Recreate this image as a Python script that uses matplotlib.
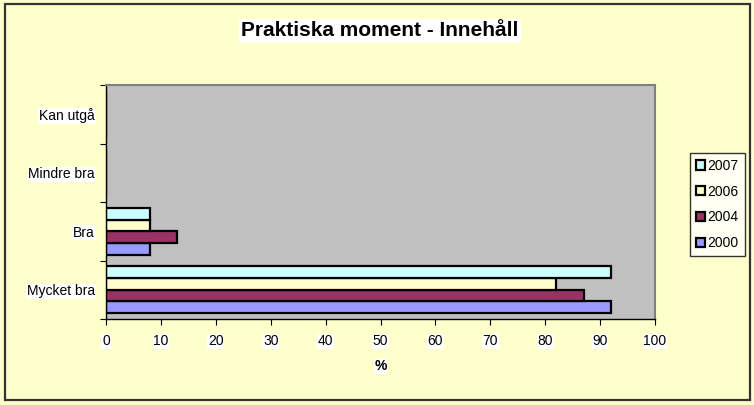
import matplotlib.pyplot as plt
import numpy as np

# data
categories = ['Mycket bra', 'Bra', 'Mindre bra', 'Kan utgå']
years = ['2000', '2004', '2006', '2007']
values_2000 = [92, 8, 0, 0]
values_2004 = [87, 13, 0, 0]
values_2006 = [82, 8, 0, 0]
values_2007 = [92, 8, 0, 0]
colors = ['#9999FF', '#993366', '#FFFFCC', '#CCFFFF']

plt.rcParams['font.family'] = ['Liberation Sans', 'DejaVu Sans']

fig = plt.figure(figsize=(7.54, 4.05), dpi=100, facecolor='#FFFFCC')
fig.patches.append(plt.Rectangle((0.0065, 0.013), 0.988, 0.976, transform=fig.transFigure,
                                 fill=False, edgecolor='#333333', linewidth=1.6))
ax = fig.add_axes([0.1406, 0.2123, 0.7281, 0.5777])
ax.set_facecolor('#C0C0C0')

series = [values_2000, values_2004, values_2006, values_2007]
y = np.arange(len(categories))
h = 0.2
for i, (vals, year, col) in enumerate(zip(series, years, colors)):
    ax.barh(y + (i - 1.5) * h, vals, height=h, color=col, edgecolor='black',
            linewidth=1.6, label=year)

ax.set_xlim(0, 100)
ax.set_ylim(-0.5, len(categories) - 0.5)
ax.set_xticks(np.arange(0, 101, 10))
ax.set_yticks(np.arange(-0.5, len(categories), 1.0))
ax.set_yticklabels([])
ax.set_yticks(y, minor=True)
ax.set_yticklabels(categories, minor=True)
ax.tick_params(axis='y', which='minor', length=0, pad=8, labelsize=10)
ax.tick_params(axis='y', which='major', length=4, direction='out')
ax.tick_params(axis='x', length=4, direction='out', labelsize=10, pad=7)
for lab in ax.get_xticklabels() + ax.get_yticklabels(minor=True):
    lab.set_bbox(dict(facecolor='white', edgecolor='none', pad=0.5))

for s in ['top', 'right']:
    ax.spines[s].set_color('#808080')
    ax.spines[s].set_linewidth(1.5)
for s in ['left', 'bottom']:
    ax.spines[s].set_color('black')
    ax.spines[s].set_linewidth(1.0)

ax.set_xlabel('%', fontsize=10, fontweight='bold', labelpad=8,
              bbox=dict(facecolor='white', edgecolor='none', pad=0.5))
fig.text(0.504, 0.924, 'Praktiska moment - Innehåll', ha='center', va='center',
         fontsize=15, fontweight='bold',
         bbox=dict(facecolor='white', edgecolor='none', pad=2))

handles, labels = ax.get_legend_handles_labels()
leg = fig.legend(handles[::-1], labels[::-1], loc='center left',
                 bbox_to_anchor=(0.915, 0.495), fontsize=10, frameon=True,
                 fancybox=False, edgecolor='black', handlelength=0.65,
                 handleheight=0.65, handletextpad=0.15, labelspacing=0.85,
                 borderpad=0.45, borderaxespad=0)
leg.get_frame().set_facecolor('white')
leg.get_frame().set_linewidth(1.0)

fig.savefig('out.png', dpi=100, facecolor=fig.get_facecolor())
